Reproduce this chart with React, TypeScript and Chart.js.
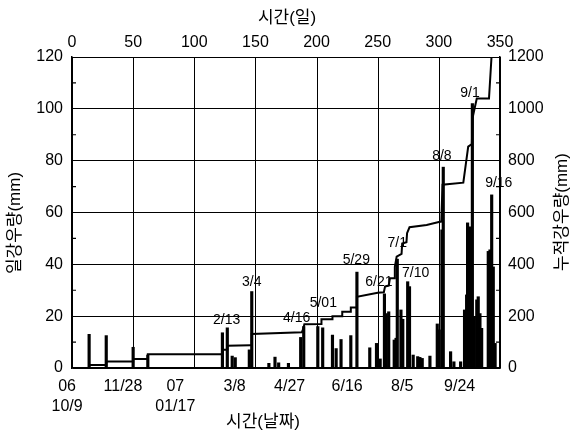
import React, { useEffect, useRef } from 'react';
import { Chart, registerables } from 'chart.js';
Chart.register(...registerables);

// daily rainfall (mm) by day since 2006-10-09
const rainDays = [14, 28, 50, 62, 123, 127, 131, 133.5, 145, 147, 161, 166, 169, 177,
  187, 189.5, 201, 205, 213, 216, 220, 228, 233,
  243.5, 249, 252, 255.5, 257, 259, 263.5, 265, 266, 269, 270.5, 274.5, 276, 279, 282.7, 284.5, 286.4, 292.7,
  298.7, 300.3, 302.5, 303.6, 309.6, 312.3, 317.8,
  321, 322.7, 323.5, 325, 326.3, 327.4, 329, 331, 332.2, 333.6, 335, 340.4, 341.8, 343.2, 344.5, 346];
const rainMm = [13, 12.5, 8, 5, 13.6, 15.5, 4.6, 4, 7, 29.5, 1.8, 4.2, 2, 1.8,
  11.8, 16, 16, 15.5, 12.7, 7.5, 11, 12.5, 37,
  7.8, 9.5, 3.5, 28.6, 21, 21.7, 10.8, 11.5, 42, 22.4, 18.8, 33.3, 31.4, 5, 4.4, 4.1, 3.7, 4.6,
  17, 14.7, 53.3, 77.5, 6.3, 2.4, 2.4,
  22.4, 28.2, 56, 54.5, 25, 102, 19.8, 26.3, 27.5, 21, 15.3, 45, 45.6, 66.8, 39, 9.5];

// cumulative rainfall (mm)
const cumDays = [0, 14, 14, 28, 28, 50, 50, 62, 62, 123, 123, 127, 127, 146, 147, 147, 188, 189, 190, 204, 204,
  213, 213, 221, 221, 228, 228, 233, 233, 250, 255, 256, 259, 260, 264, 264, 265.5, 269.5, 270, 273.5, 274, 276,
  290, 300, 302, 303, 320, 324, 327, 327.5, 331, 341, 343];
const cumMm = [0, 0, 12, 12, 25, 25, 35, 35, 53, 53, 70, 70, 86, 88, 88, 131, 138, 150, 169, 170, 188,
  188, 200, 200, 217, 217, 233, 233, 275, 290, 292, 314, 318, 346, 346, 390, 430, 440, 480, 485, 520, 543,
  552, 563, 565, 707, 715, 854, 864, 964, 1040, 1040, 1196];

const dayTicks = [0, 50, 100, 150, 200, 250, 300, 350];
const dateTickDays = [-4, 41.7, 84.5, 133, 178, 225, 270, 317];
const dateTickLabels = [['06', '10/9'], ['11/28'], ['07', '01/17'], ['3/8'], ['4/27'], ['6/16'], ['8/5'], ['9/24']];

const noteLabels = ['2/13', '3/4', '4/16', '5/01', '5/29', '6/21', '7/1', '7/10', '8/8', '9/1', '9/16'];
const noteDays = [126.5, 147, 183.7, 205.5, 232.5, 251, 266, 281, 302.5, 325.5, 349];
const noteMm = [18.5, 33.3, 19.2, 25, 41.5, 33.3, 48, 36.6, 81.6, 106, 71.3];

const FONT = '"Liberation Sans", Arial, "Noto Sans CJK KR", sans-serif';
const KFONT = '"Liberation Sans", "Noto Sans CJK KR", sans-serif';

const extrasPlugin = {
  id: 'extras',
  beforeDatasetsDraw(chart: any) {
    const ctx = chart.ctx;
    const xs = chart.scales.x;
    const ca = chart.chartArea;
    ctx.save();
    ctx.strokeStyle = '#000';
    ctx.lineWidth = 1;
    dayTicks.forEach((d) => {
      const px = Math.round(xs.getPixelForValue(d)) + 0.5;
      ctx.beginPath();
      ctx.moveTo(px, ca.top);
      ctx.lineTo(px, ca.bottom);
      ctx.stroke();
    });
    ctx.restore();
  },
  afterDraw(chart: any) {
    const ctx = chart.ctx;
    const xs = chart.scales.x;
    const ys = chart.scales.y;
    const ca = chart.chartArea;
    ctx.save();
    ctx.strokeStyle = '#000';
    ctx.lineWidth = 1.2;
    for (let v = 10; v < 120; v += 20) {
      const py = ys.getPixelForValue(v);
      ctx.beginPath();
      ctx.moveTo(ca.left, py); ctx.lineTo(ca.left + 4, py);
      ctx.moveTo(ca.right, py); ctx.lineTo(ca.right - 4, py);
      ctx.stroke();
    }
    ctx.fillStyle = '#000';
    ctx.font = '14px ' + FONT;
    ctx.textAlign = 'center';
    ctx.textBaseline = 'middle';
    noteLabels.forEach((t, i) => {
      ctx.fillText(t, xs.getPixelForValue(noteDays[i]), ys.getPixelForValue(noteMm[i]));
    });
    // top day-axis labels
    ctx.font = '16px ' + FONT;
    dayTicks.forEach((d) => {
      ctx.fillText(String(d), xs.getPixelForValue(d), 43);
    });
    ctx.font = '17px ' + KFONT;
    ctx.fillText('시간(일)', 287, 18);
    ctx.fillText('시간(날짜)', 263, 422);
    ctx.save();
    ctx.translate(15, 223);
    ctx.rotate(-Math.PI / 2);
    ctx.fillText('일강우량(mm)', 0, 0);
    ctx.restore();
    ctx.save();
    ctx.translate(562, 212);
    ctx.rotate(-Math.PI / 2);
    ctx.fillText('누적강우량(mm)', 0, 0);
    ctx.restore();
    ctx.restore();
  },
};

export default function App() {
  const ref = useRef<HTMLCanvasElement>(null);
  useEffect(() => {
    const bars = rainDays.map((d, i) => ({ x: d, y: rainMm[i] }));
    const cum = cumDays.map((d, i) => ({ x: d, y: cumMm[i] }));
    const chart = new Chart(ref.current!, {
      type: 'bar',
      data: {
        datasets: [
          {
            type: 'bar',
            data: bars as any,
            xAxisID: 'x',
            yAxisID: 'y',
            backgroundColor: '#000',
            barThickness: 2.5,
            grouped: false,
          } as any,
          {
            type: 'line',
            data: cum as any,
            xAxisID: 'x',
            yAxisID: 'y2',
            borderColor: '#000',
            borderWidth: 2,
            pointRadius: 0,
            tension: 0,
            fill: false,
          } as any,
        ],
      },
      options: {
        animation: false,
        responsive: false,
        devicePixelRatio: 1,
        layout: { padding: { top: 57, left: 0, right: 0, bottom: 0 } },
        plugins: { legend: { display: false }, tooltip: { enabled: false } },
        scales: {
          x: {
            type: 'linear',
            position: 'bottom',
            min: 0,
            max: 350,
            offset: false,
            grid: { display: false, drawTicks: false, offset: false },
            border: { display: true, color: '#000', width: 1.5 },
            afterBuildTicks: (s: any) => { s.ticks = dateTickDays.map((v) => ({ value: v })); },
            afterFit: (s: any) => { s.height = 63; },
            ticks: {
              autoSkip: false,
              maxRotation: 0,
              padding: 9,
              color: '#000',
              font: { size: 16, family: FONT, lineHeight: 1.25 },
              callback: (_v: any, i: number) => dateTickLabels[i] as any,
            },
          },
          y: {
            type: 'linear',
            position: 'left',
            min: 0,
            max: 120,
            grid: { display: true, color: '#000', lineWidth: 1, drawTicks: false },
            border: { display: true, color: '#000', width: 1.5 },
            afterFit: (s: any) => { s.width = 72; },
            ticks: { stepSize: 20, padding: 9, color: '#000', font: { size: 16, family: FONT } },
          },
          y2: {
            type: 'linear',
            position: 'right',
            min: 0,
            max: 1200,
            grid: { display: false, drawTicks: false },
            border: { display: true, color: '#000', width: 1.5 },
            afterFit: (s: any) => { s.width = 71; },
            ticks: { stepSize: 200, padding: 8, color: '#000', font: { size: 16, family: FONT }, callback: (v: any) => String(v) },
          },
        },
      },
      plugins: [extrasPlugin],
    });
    return () => chart.destroy();
  }, []);
  return (
    <div style={{ position: 'fixed', left: 0, top: 0, width: 571, height: 431, background: '#fff' }}>
      <canvas ref={ref} width={571} height={431} />
    </div>
  );
}
